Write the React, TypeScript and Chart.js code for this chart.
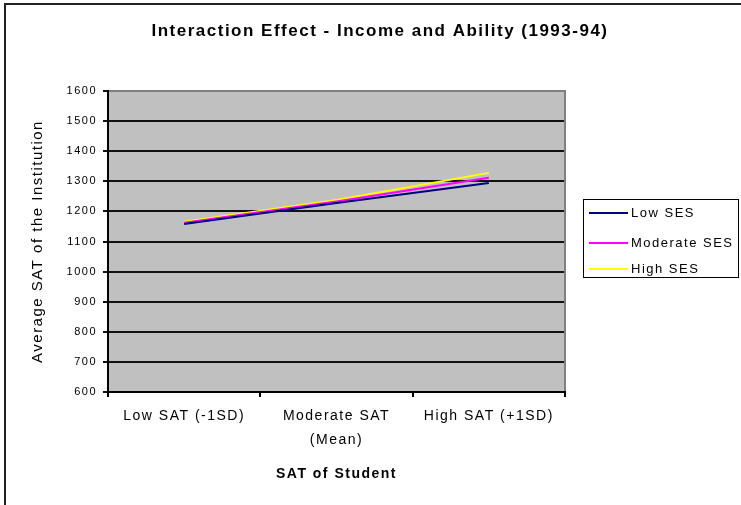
import React, { useEffect, useRef } from "react";
import { Chart, registerables } from "chart.js";

Chart.register(...registerables);

const chartTitle = "Interaction Effect - Income and Ability (1993-94)";
const xAxisTitle = "SAT of Student";
const yAxisTitle = "Average SAT of the Institution";
const categories: (string | string[])[] = [
  "Low SAT (-1SD)",
  ["Moderate SAT", "(Mean)"],
  "High SAT (+1SD)",
];
const seriesNames = ["Low SES", "Moderate SES", "High SES"];
const seriesColors = ["#000080", "#ff00ff", "#ffff00"];
const lowSES = [1158, 1228, 1294];
const moderateSES = [1162, 1233, 1312];
const highSES = [1166, 1238, 1328];
const yMin = 600;
const yMax = 1600;
const yStep = 100;

const FONT = "'Liberation Sans', Arial, sans-serif";
const SPACING = "1.5px";

const excelPlugin = {
  id: "excelLook",
  beforeLayout(chart: any) {
    chart.ctx.letterSpacing = SPACING;
  },
  beforeDraw(chart: any) {
    const ctx = chart.ctx;
    ctx.letterSpacing = SPACING;
    const { left, top, right, bottom } = chart.chartArea;
    ctx.save();
    ctx.fillStyle = "#ffffff";
    ctx.fillRect(0, 0, chart.width, chart.height);
    ctx.fillStyle = "#c0c0c0";
    ctx.fillRect(left, top, right - left, bottom - top);
    ctx.restore();
  },
  beforeDatasetsDraw(chart: any) {
    const ctx = chart.ctx;
    const { left, top, right, bottom } = chart.chartArea;
    ctx.save();
    ctx.strokeStyle = "#808080";
    ctx.lineWidth = 2;
    ctx.beginPath();
    ctx.moveTo(left + 1, top);
    ctx.lineTo(right, top);
    ctx.lineTo(right, bottom - 1);
    ctx.stroke();
    ctx.restore();
  },
  afterDraw(chart: any) {
    const ctx = chart.ctx;
    ctx.save();
    // outer frame (left and top edges visible)
    ctx.strokeStyle = "#222222";
    ctx.lineWidth = 2;
    ctx.beginPath();
    ctx.moveTo(5, chart.height);
    ctx.lineTo(5, 4);
    ctx.lineTo(chart.width, 4);
    ctx.stroke();

    // title
    ctx.fillStyle = "#000000";
    ctx.font = `bold 17px ${FONT}`;
    ctx.textAlign = "center";
    ctx.textBaseline = "middle";
    ctx.fillText(chartTitle, 380, 31);

    // legend
    const boxL = 583, boxT = 199, boxR = 738, boxB = 277;
    ctx.strokeStyle = "#000000";
    ctx.lineWidth = 1;
    ctx.strokeRect(boxL + 0.5, boxT + 0.5, boxR - boxL, boxB - boxT);
    const ys = [213, 243, 269];
    ctx.font = `13px ${FONT}`;
    ctx.textAlign = "left";
    chart.data.datasets.forEach((ds: any, i: number) => {
      const y = ys[i];
      ctx.strokeStyle = ds.borderColor;
      ctx.lineWidth = 2;
      ctx.beginPath();
      ctx.moveTo(589, y);
      ctx.lineTo(628, y);
      ctx.stroke();
      ctx.fillStyle = "#000000";
      ctx.fillText(ds.label, 631, y);
    });
    ctx.restore();
  },
};

export default function App() {
  const canvasRef = useRef<HTMLCanvasElement | null>(null);

  useEffect(() => {
    if (!canvasRef.current) return;
    Chart.defaults.font.family = FONT;
    Chart.defaults.color = "#000000";
    const seriesValues = [lowSES, moderateSES, highSES];
    const chart = new Chart(canvasRef.current, {
      type: "line",
      data: {
        labels: categories,
        datasets: seriesNames.map((name, i) => ({
          label: name,
          data: seriesValues[i],
          borderColor: seriesColors[i],
          backgroundColor: seriesColors[i],
          borderWidth: 2,
          pointRadius: 0,
          tension: 0,
          fill: false,
        })),
      },
      options: {
        responsive: false,
        animation: false,
        devicePixelRatio: 1,
        layout: { padding: { top: 91, right: 176, left: 0, bottom: 0 } },
        plugins: {
          legend: { display: false },
          title: { display: false },
          tooltip: { enabled: false },
        },
        scales: {
          x: {
            type: "category",
            offset: true,
            grid: {
              offset: true,
              drawOnChartArea: false,
              color: "#000000",
              lineWidth: 2,
              tickLength: 5,
            },
            border: { display: true, color: "#000000", width: 2 },
            ticks: {
              autoSkip: false,
              maxRotation: 0,
              minRotation: 0,
              padding: 7,
              color: "#000000",
              font: { size: 14, lineHeight: 1.714 },
            },
            title: {
              display: true,
              text: xAxisTitle,
              color: "#000000",
              font: { size: 14, weight: "bold" },
              padding: { top: 0, bottom: 22.6 },
            },
            afterFit: (scale: any) => {
              scale.height = 113;
            },
          },
          y: {
            min: yMin,
            max: yMax,
            ticks: {
              stepSize: yStep,
              padding: 6,
              color: "#000000",
              font: { size: 11 },
              callback: (v: any) => String(v),
            },
            grid: {
              color: "#111111",
              lineWidth: 2,
              tickLength: 5,
            },
            border: { display: true, color: "#000000", width: 2 },
            title: {
              display: true,
              text: yAxisTitle,
              color: "#000000",
              font: { size: 15 },
              padding: { top: 29, bottom: 0 },
            },
            afterFit: (scale: any) => {
              scale.width = 108;
            },
          },
        },
      },
      plugins: [excelPlugin],
    } as any);
    return () => chart.destroy();
  }, []);

  return (
    <div style={{ position: "absolute", left: 0, top: 0, width: 741, height: 505, background: "#fff" }}>
      <canvas ref={canvasRef} width={741} height={505} style={{ display: "block" }} />
    </div>
  );
}
